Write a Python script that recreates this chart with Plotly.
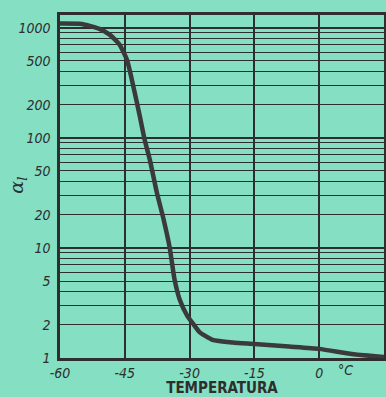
import plotly.graph_objects as go

temps = [-60, -55, -51, -48.5, -46.2, -44.5, -43.2, -41.5, -40.4, -39.2, -37.6, -36, -34.6,
         -33.5, -32.3, -30.5, -29, -27.7, -24.7, -20, -15, -7, 0, 8, 15]
alpha = [1090, 1080, 980, 865, 700, 510, 315, 155, 96, 63, 32, 18, 10,
         5.2, 3.4, 2.4, 2.0, 1.72, 1.46, 1.38, 1.34, 1.27, 1.21, 1.08, 1.02]

x_ticks = [-60, -45, -30, -15, 0, 15]
x_labels = ["-60", "-45", "-30", "-15", "0", "15"]
y_ticks = [1, 2, 5, 10, 20, 50, 100, 200, 500, 1000]
y_labels = ["1", "2", "5", "10", "20", "50", "100", "200", "500", "1000"]
y_minor = [m * d for d in (1, 10, 100) for m in (3, 4, 6, 7, 8, 9)]
decades = [1, 10, 100, 1000]

bg = "#84dfc3"
ink = "#2e2e2e"
tickfont = dict(family="DejaVu Sans Condensed, DejaVu Sans", size=14, color=ink)

fig = go.Figure()
fig.add_trace(go.Scatter(x=temps, y=alpha, mode="lines",
                         line=dict(color="#3a3a3a", width=4.5, shape="spline", smoothing=0.5),
                         showlegend=False))
# invisible trace on overlay axis for thick decade lines
fig.add_trace(go.Scatter(x=[-60], y=[1], yaxis="y2", mode="markers",
                         marker=dict(opacity=0), showlegend=False, hoverinfo="skip"))

fig.update_layout(
    width=386, height=397,
    margin=dict(l=60, r=2, t=15, b=39),
    paper_bgcolor=bg, plot_bgcolor=bg,
    xaxis=dict(range=[-60, 15], tickvals=x_ticks, ticktext=x_labels, automargin=False,
               showgrid=True, gridcolor=ink, gridwidth=1.5,
               zeroline=False, showline=True, linecolor=ink, linewidth=2.5, mirror=True,
               ticks="", tickfont=dict(tickfont, style="italic"), ticklabelstandoff=0,
               title=dict(text="<b>TEMPERATURA</b>", standoff=0,
                          font=dict(family="DejaVu Sans Condensed, DejaVu Sans", size=15, color=ink))),
    yaxis=dict(type="log", range=[0, 3.115], tickvals=y_ticks, ticktext=y_labels, automargin=False,
               showgrid=True, gridcolor=ink, gridwidth=1.3,
               minor=dict(tickvals=y_minor, showgrid=True, gridcolor=ink, gridwidth=1.1, ticks=""),
               zeroline=False, showline=True, linecolor=ink, linewidth=2.5, mirror=True,
               ticks="", tickfont=dict(tickfont, style="italic"), ticklabelstandoff=4),
    yaxis2=dict(type="log", range=[0, 3.115], overlaying="y", tickvals=decades, automargin=False,
                showticklabels=False, showgrid=True, gridcolor=ink, gridwidth=2.2,
                zeroline=False, ticks=""),
    annotations=[
        dict(x=6, y=0, xref="x", yref="paper", yanchor="top", yshift=-2,
             text="<i>°C</i>", showarrow=False, font=tickfont),
        dict(x=-0.13, y=0.505, xref="paper", yref="paper", textangle=-90,
             xanchor="center", yanchor="middle",
             text="<i>α<sub>l</sub></i>", showarrow=False,
             font=dict(family="DejaVu Serif", size=19, color=ink)),
    ],
)

fig.write_html("out.html", config={"displayModeBar": False},
               post_script="document.body.style.margin='0';"
                           "document.body.style.background='#84dfc3';")
